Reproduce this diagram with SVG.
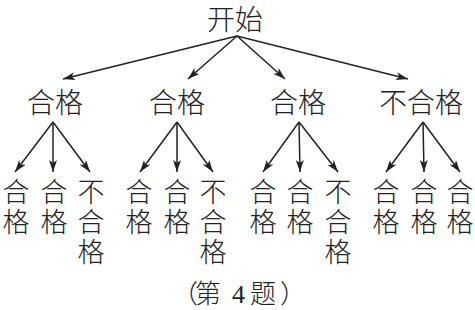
<svg xmlns="http://www.w3.org/2000/svg" width="475" height="310" viewBox="0 0 475 310">
<defs>
<marker id="ah" viewBox="0 0 12 8" refX="12" refY="4" markerWidth="12" markerHeight="8" markerUnits="userSpaceOnUse" orient="auto">
<path d="M0,0 L12,4 L0,8 L3,4 Z" fill="#222"/>
</marker>
</defs>
<style>
text{font-family:"Noto Sans CJK SC","Noto Sans",sans-serif;font-weight:300;fill:#222;text-anchor:middle}
.t{font-size:28px}
.s{font-size:27px}
.c{font-size:26px;text-anchor:start}
.n{font-family:"Liberation Serif",serif;font-weight:400}
.e{fill:none;stroke:#222;stroke-width:1.5;marker-end:url(#ah)}
</style>
<rect width="475" height="310" fill="#fff"/>
<g id="connectors">
<path class="e" d="M237,36 L63,79"/>
<path class="e" d="M237,36 L188,79"/>
<path class="e" d="M237,36 L285,79"/>
<path class="e" d="M237,36 L408,79"/>
<path class="e" d="M53,122 L15,172"/>
<path class="e" d="M53,122 L53,172"/>
<path class="e" d="M53,122 L90,172"/>
<path class="e" d="M177,122 L140,172"/>
<path class="e" d="M177,122 L177,172"/>
<path class="e" d="M177,122 L213,172"/>
<path class="e" d="M299,122 L263,172"/>
<path class="e" d="M299,122 L300,172"/>
<path class="e" d="M299,122 L338,172"/>
<path class="e" d="M423,122 L386,172"/>
<path class="e" d="M423,122 L424,172"/>
<path class="e" d="M423,122 L460,172"/>
</g>
<g id="root"><text class="t" x="235" y="30">开始</text></g>
<g id="a1"><text class="t" x="55" y="113">合格</text></g>
<g id="a2"><text class="t" x="177" y="113">合格</text></g>
<g id="a3"><text class="t" x="298" y="113">合格</text></g>
<g id="a4"><text class="t" x="421" y="113">不合格</text></g>
<g id="b1"><text class="s" x="16" y="202">合<tspan x="16" dy="30">格</tspan></text></g>
<g id="b2"><text class="s" x="54" y="202">合<tspan x="54" dy="30">格</tspan></text></g>
<g id="b3"><text class="s" x="91" y="202">不<tspan x="91" dy="30">合</tspan><tspan x="91" dy="30">格</tspan></text></g>
<g id="b4"><text class="s" x="139" y="202">合<tspan x="139" dy="30">格</tspan></text></g>
<g id="b5"><text class="s" x="177" y="202">合<tspan x="177" dy="30">格</tspan></text></g>
<g id="b6"><text class="s" x="213" y="202">不<tspan x="213" dy="30">合</tspan><tspan x="213" dy="30">格</tspan></text></g>
<g id="b7"><text class="s" x="263" y="202">合<tspan x="263" dy="30">格</tspan></text></g>
<g id="b8"><text class="s" x="300" y="202">合<tspan x="300" dy="30">格</tspan></text></g>
<g id="b9"><text class="s" x="338" y="202">不<tspan x="338" dy="30">合</tspan><tspan x="338" dy="30">格</tspan></text></g>
<g id="b10"><text class="s" x="386" y="202">合<tspan x="386" dy="30">格</tspan></text></g>
<g id="b11"><text class="s" x="424" y="202">合<tspan x="424" dy="30">格</tspan></text></g>
<g id="b12"><text class="s" x="460" y="202">合<tspan x="460" dy="30">格</tspan></text></g>
<g id="caption"><text class="c" x="172" y="303">（<tspan x="195">第</tspan><tspan class="n" x="232">4</tspan><tspan x="250">题</tspan><tspan x="280">）</tspan></text></g>
</svg>
